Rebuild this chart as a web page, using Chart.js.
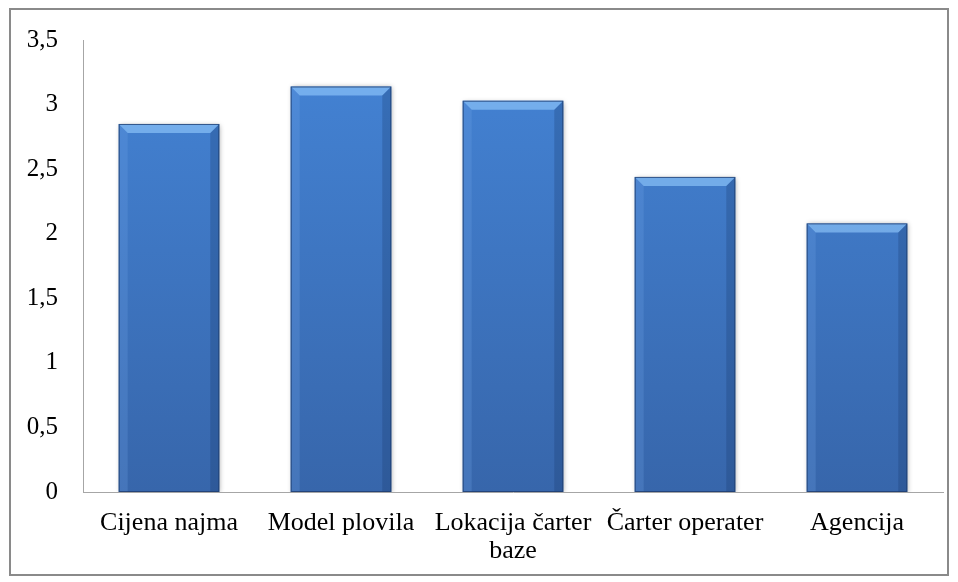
<!DOCTYPE html>
<html>
<head>
<meta charset="utf-8">
<script src="https://cdn.jsdelivr.net/npm/chart.js@4"></script>
<style>
  html, body { margin: 0; padding: 0; background: #fff; }
  #wrap { width: 958px; height: 582px; }
</style>
</head>
<body>
<div id="wrap"><canvas id="grafikon"></canvas></div>
<script>
// podaci
const kategorije = ['Cijena najma', 'Model plovila', ['Lokacija čarter', 'baze'], 'Čarter operater', 'Agencija'];
const vrijednosti = [2.85, 3.14, 3.03, 2.44, 2.08];
const yMin = 0, yMax = 3.5, yKorak = 0.5;

// okvir oko grafikona
const okvir = {
    id: 'okvir',
    afterDraw(chart) {
        const ctx = chart.ctx;
        ctx.save();
        ctx.strokeStyle = '#8a8a8a';
        ctx.lineWidth = 2;
        ctx.strokeRect(10, 9, 938, 566);
        ctx.restore();
    }
};

// sjena i "bevel" efekt na stupcima
const bevel = {
    id: 'bevel',
    beforeDatasetsDraw(chart) {
        const ctx = chart.ctx;
        ctx.save();
        ctx.shadowColor = 'rgba(0,0,0,0.35)';
        ctx.shadowBlur = 5;
        ctx.shadowOffsetX = 1;
        ctx.shadowOffsetY = 1;
    },
    afterDatasetsDraw(chart) {
        const ctx = chart.ctx;
        ctx.restore();
        ctx.save();
        chart.getDatasetMeta(0).data.forEach(bar => {
            const l = bar.x - bar.width / 2, r = bar.x + bar.width / 2;
            const t = bar.y, b = bar.base, d = 9;
            // gornji rub
            ctx.fillStyle = 'rgba(150,205,255,0.6)';
            ctx.beginPath();
            ctx.moveTo(l, t); ctx.lineTo(r, t); ctx.lineTo(r - d, t + d); ctx.lineTo(l + d, t + d);
            ctx.fill();
            // lijevi rub
            ctx.fillStyle = 'rgba(110,165,230,0.25)';
            ctx.beginPath();
            ctx.moveTo(l, t); ctx.lineTo(l + d, t + d); ctx.lineTo(l + d, b); ctx.lineTo(l, b);
            ctx.fill();
            // desni rub
            ctx.fillStyle = 'rgba(20,50,100,0.25)';
            ctx.beginPath();
            ctx.moveTo(r, t); ctx.lineTo(r - d, t + d); ctx.lineTo(r - d, b); ctx.lineTo(r, b);
            ctx.fill();
            ctx.strokeStyle = 'rgba(30,60,110,0.8)';
            ctx.lineWidth = 1;
            ctx.strokeRect(l + 0.5, t + 0.5, r - l - 1, b - t - 1);
        });
        ctx.restore();
    }
};

const ctx = document.getElementById('grafikon').getContext('2d');
new Chart(ctx, {
    type: 'bar',
    data: {
        labels: kategorije,
        datasets: [{
            data: vrijednosti,
            backgroundColor: (c) => {
                const area = c.chart.chartArea;
                if (!area) return '#4180d0';
                const g = c.chart.ctx.createLinearGradient(0, area.top, 0, area.bottom);
                g.addColorStop(0, '#4484d6');
                g.addColorStop(1, '#3766ab');
                return g;
            },
            borderWidth: 0,
            barPercentage: 0.78,
            categoryPercentage: 0.75
        }]
    },
    options: {
        responsive: true,
        maintainAspectRatio: false,
        animation: false,
        layout: { padding: { left: 20, right: 15, top: 40, bottom: 10 } },
        plugins: {
            legend: { display: false },
            tooltip: { enabled: false }
        },
        scales: {
            x: {
                grid: { display: false, drawTicks: false },
                border: { color: '#a6a6a6', width: 1 },
                ticks: {
                    color: '#000',
                    padding: 18,
                    maxRotation: 0,
                    autoSkip: false,
                    font: { family: '"Liberation Serif", "Times New Roman", serif', size: 26, lineHeight: 1.05 }
                },
                afterFit: (s) => { s.height = 80; }
            },
            y: {
                min: yMin,
                max: yMax,
                grid: { display: false, drawTicks: false },
                border: { color: '#a6a6a6', width: 1 },
                ticks: {
                    stepSize: yKorak,
                    color: '#000',
                    padding: 25,
                    font: { family: '"Liberation Serif", "Times New Roman", serif', size: 25 },
                    callback: (v) => String(v).replace('.', ',')
                },
                afterFit: (s) => { s.width = 63; }
            }
        }
    },
    plugins: [okvir, bevel]
});
</script>
</body>
</html>
